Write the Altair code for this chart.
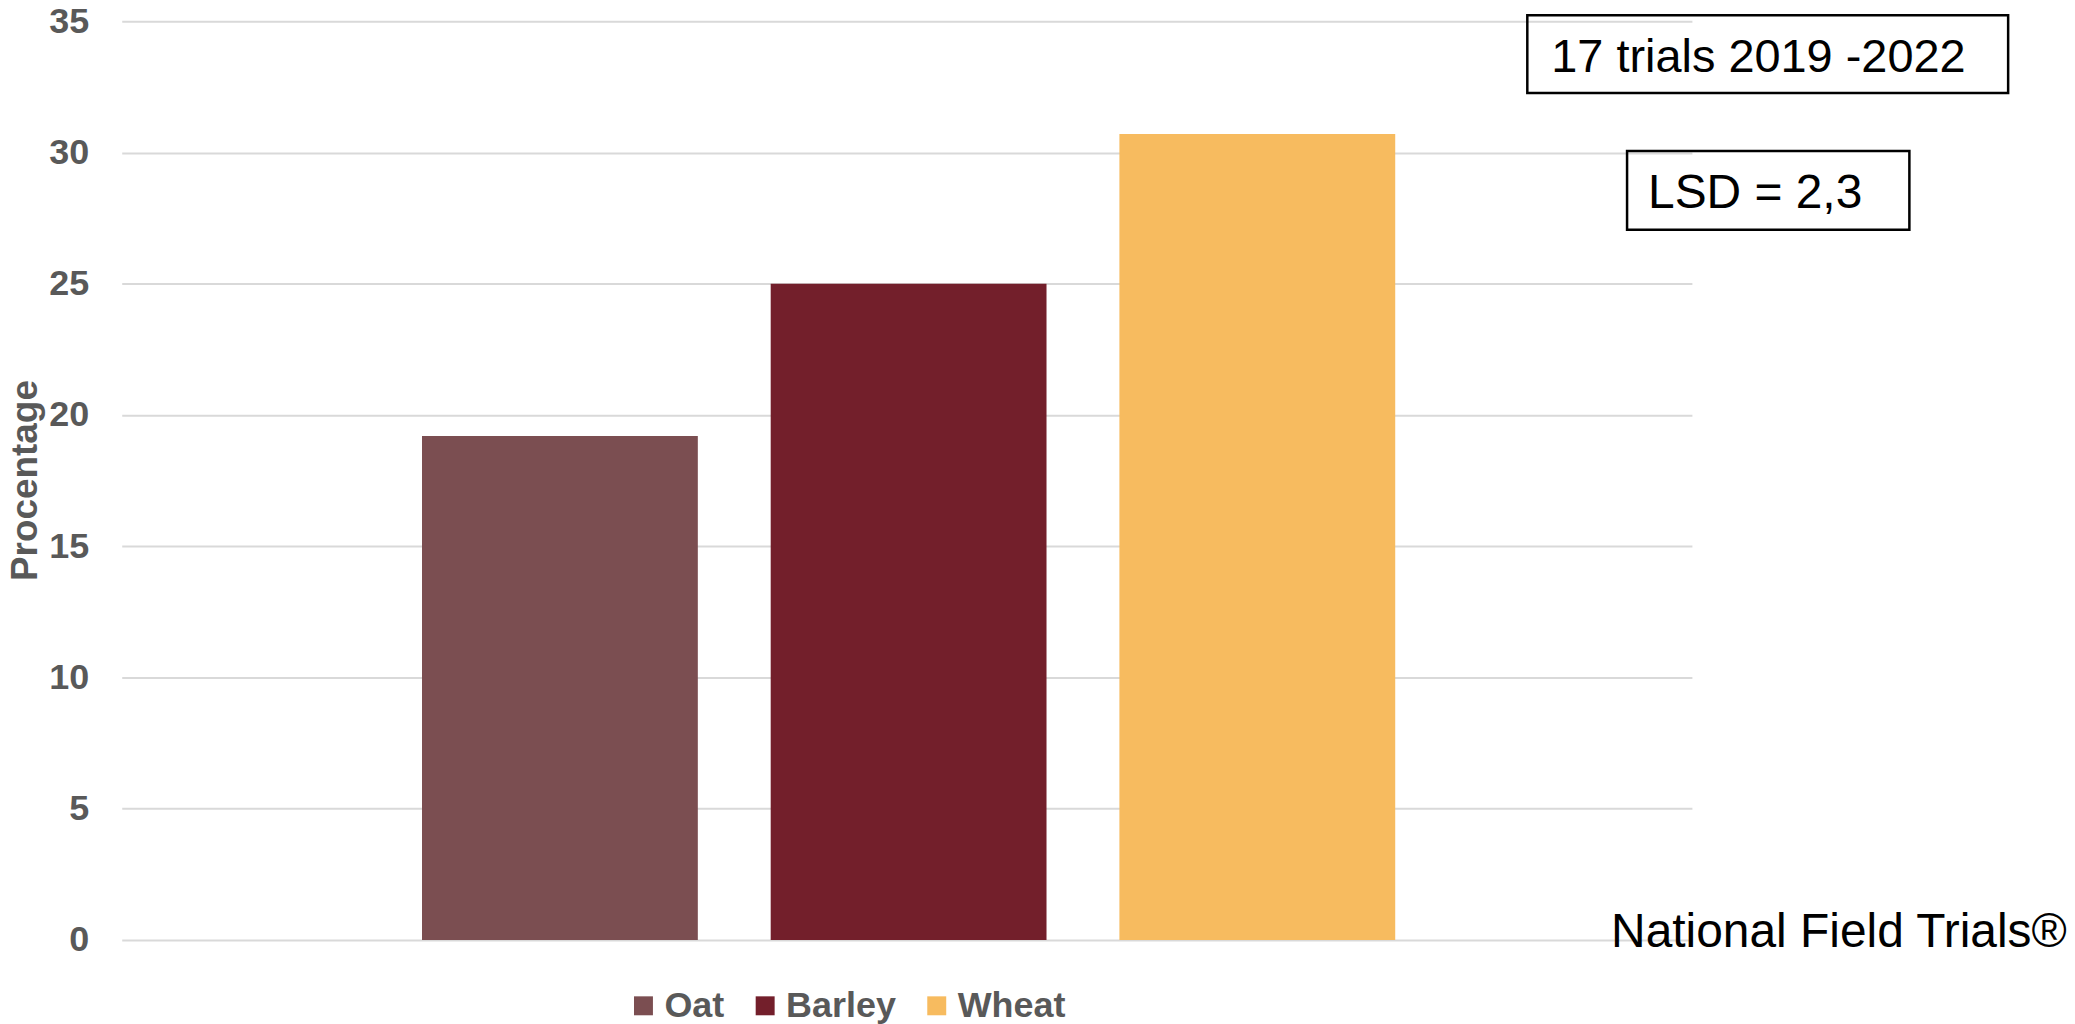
import altair as alt
import pandas as pd

categories = ["Oat", "Barley", "Wheat"]
values = [19.2, 25.0, 30.7]
bar_colors = ["#7B4E51", "#731F2B", "#F7BB5F"]
y_ticks = [0, 5, 10, 15, 20, 25, 30, 35]
y_title = "Procentage"
note_trials = "17 trials 2019 -2022"
note_lsd = "LSD = 2,3"
note_source = "National Field Trials®"

df = pd.DataFrame({"Crop": categories, "Value": values})
one = pd.DataFrame({"k": [0]})

FONT = "Liberation Sans"
GRAY = "#595959"

bars = alt.Chart(df).mark_bar().encode(
    x=alt.X("Crop:N", sort=categories,
            scale=alt.Scale(paddingInner=0.209, paddingOuter=0.856, align=0.503),
            axis=None),
    y=alt.Y("Value:Q",
            scale=alt.Scale(domain=[0, 35], nice=False),
            axis=alt.Axis(values=y_ticks, title=y_title, grid=True, gridColor="#D9D9D9",
                          gridWidth=2, domain=False, ticks=False, tickSize=0,
                          labelFont=FONT, labelFontSize=36, labelFontWeight="bold",
                          labelColor=GRAY, labelPadding=33,
                          titleFont=FONT, titleFontSize=37, titleFontWeight="bold",
                          titleColor=GRAY, titleAngle=270, titleBaseline="top",
                          titleAlign="center", titleX=-114, titleY=460)),
    color=alt.Color("Crop:N", sort=categories,
                    scale=alt.Scale(domain=categories, range=bar_colors),
                    legend=alt.Legend(title=None, orient="none", direction="horizontal",
                                      legendX=505, legendY=969, padding=0,
                                      symbolType="square", symbolSize=361,
                                      symbolStrokeWidth=0, labelOffset=3,
                                      columnPadding=22,
                                      labelFont=FONT, labelFontSize=36,
                                      labelFontWeight="bold", labelColor=GRAY)),
)

box1 = alt.Chart(one).mark_rect(fill="white", fillOpacity=0, stroke="black", strokeWidth=2.5).encode(
    x=alt.value(1409), x2=alt.value(1891), y=alt.value(-6), y2=alt.value(72))
box2 = alt.Chart(one).mark_rect(fill="white", fillOpacity=0, stroke="black", strokeWidth=2.5).encode(
    x=alt.value(1509), x2=alt.value(1792), y=alt.value(130), y2=alt.value(209))

t1 = alt.Chart(one).mark_text(text=note_trials, font=FONT, fontSize=47, align="left",
                              baseline="alphabetic", color="black").encode(
    x=alt.value(1433), y=alt.value(51))
t2 = alt.Chart(one).mark_text(text=note_lsd, font=FONT, fontSize=48, align="left",
                              baseline="alphabetic", color="black").encode(
    x=alt.value(1530), y=alt.value(187))
t3 = alt.Chart(one).mark_text(text=note_source, font=FONT, fontSize=48, align="left",
                              baseline="alphabetic", color="black").encode(
    x=alt.value(1493), y=alt.value(928))

chart = alt.layer(bars, box1, box2, t1, t2, t3).properties(
    width=1574, height=921,
    padding={"left": 114, "top": 12, "right": 376, "bottom": 83},
    autosize=alt.AutoSizeParams(type="none"),
).configure_view(stroke=None)

chart.save("out.html", embed_options={"renderer": "svg", "actions": False})
